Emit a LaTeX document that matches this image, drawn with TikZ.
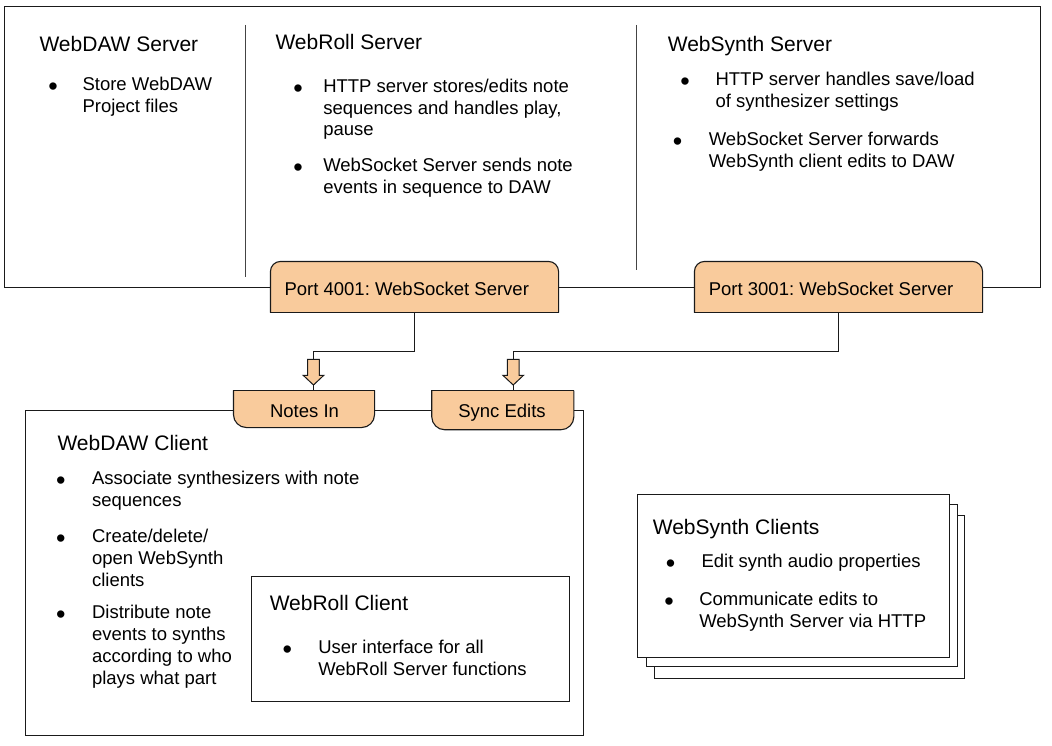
\documentclass[tikz,border=0pt]{standalone}
\usepackage{fontspec}
\setmainfont{Liberation Sans}
\frenchspacing
\definecolor{peach}{HTML}{F9CB9C}
\definecolor{ink}{HTML}{1A1A1A}
\definecolor{divgray}{HTML}{444444}
\newcommand\blockarrowat[1]{%
  \filldraw[fill=peach, line width=1pt] (#1) ++(-5.8,0) -- ++(11.6,0) -- ++(0,16) -- ++(4.5,0)
    -- ++(-10.3,9.7) -- ++(-10.3,-9.7) -- ++(4.5,0) -- cycle;}
\begin{document}
\begin{tikzpicture}[x=1pt,y=-1pt, line width=1.1pt, draw=ink, text=black,
  box/.style={draw=ink, fill=white, inner sep=0pt, anchor=north west},
  shapebox/.style={inner sep=0pt, anchor=center},
  txt/.style={font=\fontsize{18.5}{21.7}\selectfont, align=left, inner sep=0pt, anchor=north west},
  ttl/.style={font=\fontsize{21}{25}\selectfont, inner sep=0pt, anchor=base west},
  bul/.style={font=\fontsize{27}{30}\selectfont, inner sep=0pt, anchor=center, yshift=0.7pt},
  lbl/.style={font=\fontsize{18.5}{22}\selectfont, inner sep=0pt},
  divider/.style={draw=divgray, line width=0.9pt},
  peachfill/.style={fill=peach, draw=ink}]
\useasboundingbox (0,0) rectangle (1052,746);

% ---------- server area ----------
\node[box, minimum width=1036pt, minimum height=281pt] (srv) at (4,6) {};
\draw[divider] (245,25) -- (245,277);
\draw[divider] (636,25) -- (636,270);

\node[ttl] (t1) at (39,51.7) {WebDAW Server};
\node[bul] (b1) at (53,90) {•};
\node[txt] (x1) at (82,76.7) {Store WebDAW\\Project files};

\node[ttl] (t2) at (275,50) {WebRoll Server};
\node[bul] (b2) at (298,91.7) {•};
\node[txt] (x2) at (322.7,78.4) {HTTP server stores/edits note\\sequences and handles play,\\pause};
\node[bul] (b3) at (298,170.7) {•};
\node[txt] (x3) at (322.7,157.4) {WebSocket Server sends note\\events in sequence to DAW};

\node[ttl] (t3) at (667.3,51.7) {WebSynth Server};
\node[bul] (b4) at (685,85) {•};
\node[txt] (x4) at (715,71.7) {HTTP server handles save/load\\of synthesizer settings};
\node[bul] (b5) at (677.7,145) {•};
\node[txt] (x5) at (708.3,131.7) {WebSocket Server forwards\\WebSynth client edits to DAW};

% ---------- ports ----------
\node[shapebox, minimum width=287pt, minimum height=50pt] (p4) at (414.5,287) {};
\filldraw[peachfill, rounded corners=10pt] (p4.south west) -- (p4.north west) -- (p4.north east) -- (p4.south east);
\draw[line cap=rect] (p4.south west) -- (p4.south east);
\node[lbl, anchor=base west] (p4t) at (284,295.7) {Port 4001: WebSocket Server};

\node[shapebox, minimum width=287pt, minimum height=50pt] (p3) at (838.5,287) {};
\filldraw[peachfill, rounded corners=10pt] (p3.south west) -- (p3.north west) -- (p3.north east) -- (p3.south east);
\draw[line cap=rect] (p3.south west) -- (p3.south east);
\node[lbl, anchor=base west] (p3t) at (708.3,295.7) {Port 3001: WebSocket Server};

% ---------- WebDAW client ----------
\node[box, minimum width=558pt, minimum height=325pt] (dc) at (25,410) {};
\node[ttl] (t4) at (57,450.7) {WebDAW Client};
\node[bul] (b6) at (60.8,484.3) {•};
\node[txt] (x6) at (91.5,471) {Associate synthesizers with note\\sequences};
\node[bul] (b7) at (60.8,542.3) {•};
\node[txt] (x7) at (91.5,529) {Create/delete/\\open WebSynth\\clients};
\node[bul] (b8) at (60.8,618.3) {•};
\node[txt] (x8) at (91.5,605) {Distribute note\\events to synths\\according to who\\plays what part};

\node[box, minimum width=318pt, minimum height=125pt] (rc) at (250.5,575.5) {};
\node[ttl] (t5) at (269.2,610) {WebRoll Client};
\node[bul] (b9) at (287.3,653.3) {•};
\node[txt] (x9) at (317.7,640) {User interface for all\\WebRoll Server functions};

% ---------- tabs ----------
\node[shapebox, minimum width=140pt, minimum height=36pt] (nt) at (304,409) {};
\filldraw[peachfill, rounded corners=13pt] (nt.north west) -- (nt.south west) -- (nt.south east) -- (nt.north east);
\draw[line cap=rect] (nt.north west) -- (nt.north east);
\node[lbl, anchor=base] (ntt) at (304.5,417.7) {Notes In};

\node[shapebox, minimum width=141pt, minimum height=38pt] (se) at (502.8,410.2) {};
\filldraw[peachfill, rounded corners=13pt] (se.north west) -- (se.south west) -- (se.south east) -- (se.north east);
\draw[line cap=rect] (se.north west) -- (se.north east);
\node[lbl, anchor=base] (set) at (502,417.7) {Sync Edits};

% ---------- connectors ----------
\coordinate (a1) at (313.5,359.3);
\coordinate (a1tip) at (313.5,385);
\draw (p4.south) -- ++(0,39) -| (a1);
\blockarrowat{a1}
\draw (a1tip) -- (a1tip |- nt.north);

\coordinate (a2) at (513.2,359.3);
\coordinate (a2tip) at (513.2,385);
\draw (p3.south) -- ++(0,39) -| (a2);
\blockarrowat{a2}
\draw (a2tip) -- (a2tip |- se.north);

% ---------- WebSynth clients ----------
\node[box, minimum width=310pt, minimum height=163pt] (ws3) at (654,515) {};
\node[box, minimum width=311pt, minimum height=162pt] (ws2) at (646,504) {};
\node[box, minimum width=312pt, minimum height=163pt] (ws1) at (637,494) {};
\node[ttl] (t6) at (652.3,534.3) {WebSynth Clients};
\node[bul] (b10) at (670.7,566.7) {•};
\node[txt] (x10) at (701,553.4) {Edit synth audio properties};
\node[bul] (b11) at (669,605) {•};
\node[txt] (x11) at (698.7,591.7) {Communicate edits to\\WebSynth Server via HTTP};
\end{tikzpicture}
\end{document}
